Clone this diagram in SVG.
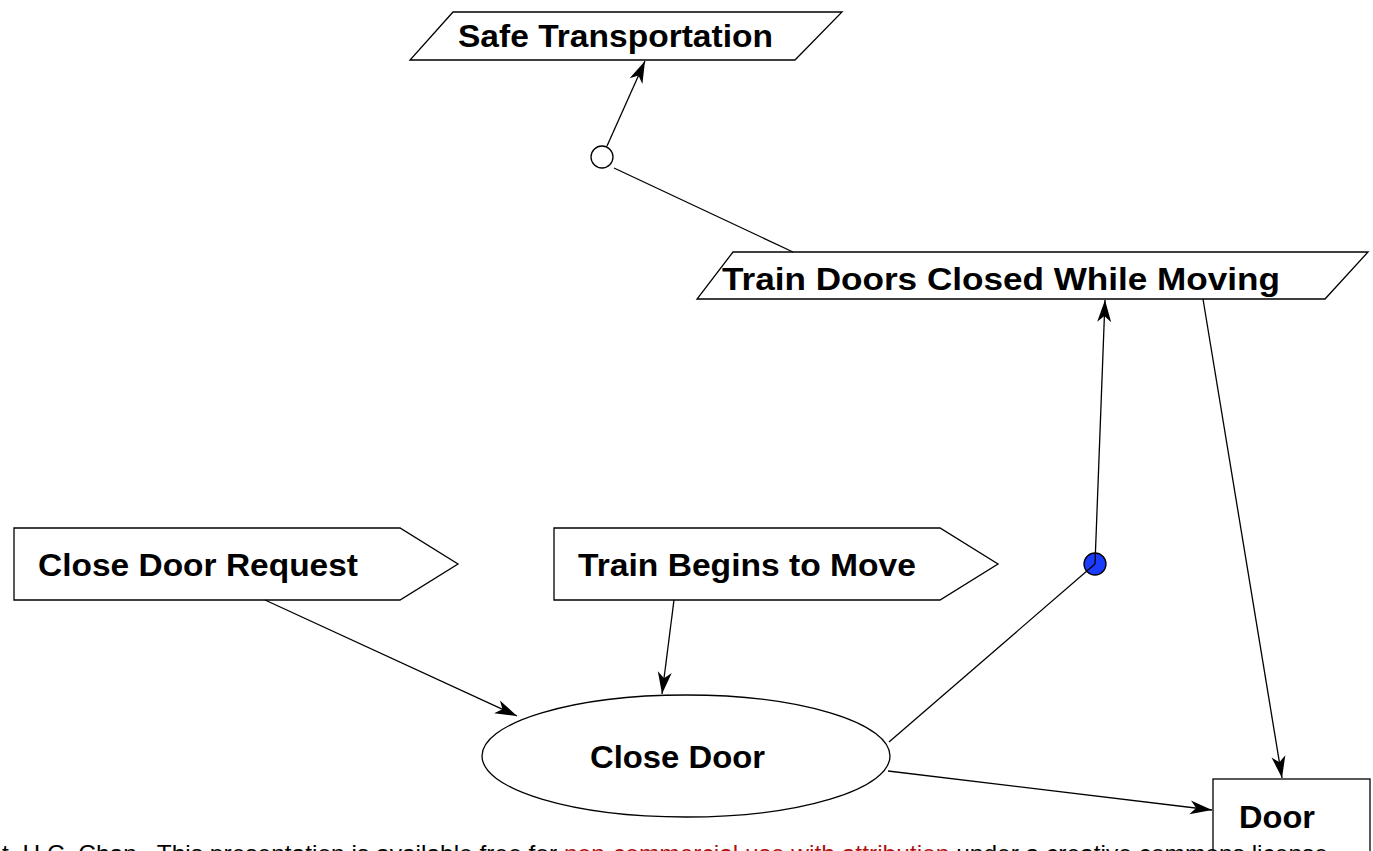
<svg xmlns="http://www.w3.org/2000/svg" width="1373" height="851" viewBox="0 0 1373 851">
  <style>
    .shape { fill: #ffffff; stroke: #000000; stroke-width: 1.3; }
    .label { font-family: "Liberation Sans", Arial, Helvetica, sans-serif; font-weight: bold; font-size: 32px; fill: #000000; }
    .edge { fill: none; stroke: #000000; stroke-width: 1.3; }
    .foot { font-family: "Liberation Sans", Arial, Helvetica, sans-serif; font-size: 24.5px; fill: #000000; }
    .link { fill: #b01010; }
  </style>
  <defs>
    <marker id="arrow" markerUnits="userSpaceOnUse" markerWidth="26" markerHeight="18" viewBox="-24 -9 26 18" refX="0" refY="0" orient="auto">
      <path d="M0,0 L-22,-7 L-16,0 L-22,7 Z" fill="#000000"/>
    </marker>
  </defs>

  <rect width="1373" height="851" fill="#ffffff"/>

  <!-- goals -->
  <g id="safe-transportation">
    <polygon class="shape" points="453,12 842,12 795,60 410,60"/>
    <text class="label" x="458" y="47" textLength="315" lengthAdjust="spacingAndGlyphs">Safe Transportation</text>
  </g>

  <g id="train-doors-closed">
    <polygon class="shape" points="733,252 1368,252 1325,299 697,299"/>
    <text class="label" x="722" y="290" textLength="558" lengthAdjust="spacingAndGlyphs">Train Doors Closed While Moving</text>
  </g>

  <!-- events -->
  <g id="close-door-request">
    <polygon class="shape" points="14,528 400,528 458,564 400,600 14,600"/>
    <text class="label" x="38" y="576" textLength="320" lengthAdjust="spacingAndGlyphs">Close Door Request</text>
  </g>

  <g id="train-begins-to-move">
    <polygon class="shape" points="554,528 940,528 998,564 940,600 554,600"/>
    <text class="label" x="578" y="576" textLength="338" lengthAdjust="spacingAndGlyphs">Train Begins to Move</text>
  </g>

  <!-- operation -->
  <g id="close-door">
    <ellipse class="shape" cx="686" cy="756" rx="204" ry="61"/>
    <text class="label" x="590" y="768" textLength="175" lengthAdjust="spacingAndGlyphs">Close Door</text>
  </g>

  <!-- entity -->
  <g id="door">
    <rect class="shape" x="1213" y="779" width="157" height="90"/>
    <text class="label" x="1239" y="828" textLength="76" lengthAdjust="spacingAndGlyphs">Door</text>
  </g>

  <!-- refinement junctions -->
  <g id="and-refinement">
    <circle class="shape" cx="602" cy="157" r="11"/>
  </g>
  <g id="operationalisation">
    <circle cx="1095" cy="564" r="11" fill="#1a3cff" stroke="#000000" stroke-width="1.3"/>
  </g>

  <g id="connectors">
    <line class="edge" x1="607" y1="146" x2="645" y2="61" marker-end="url(#arrow)"/>
    <line class="edge" x1="614" y1="168" x2="793" y2="252"/>
    <line class="edge" x1="1095" y1="564" x2="1105" y2="300" marker-end="url(#arrow)"/>
    <line class="edge" x1="889" y1="742" x2="1095" y2="564"/>
    <line class="edge" x1="1203" y1="299" x2="1282" y2="778" marker-end="url(#arrow)"/>
    <line class="edge" x1="265" y1="600" x2="517" y2="716" marker-end="url(#arrow)"/>
    <line class="edge" x1="674" y1="600" x2="662" y2="694" marker-end="url(#arrow)"/>
    <line class="edge" x1="888" y1="771" x2="1212" y2="810" marker-end="url(#arrow)"/>
  </g>

  <!-- footer line, running off the bottom edge -->
  <text class="foot" x="2" y="862" xml:space="preserve">t, H.C. Chan.  This presentation is available free for <tspan class="link">non-commercial use with attribution</tspan> under a creative commons license</text>
</svg>
